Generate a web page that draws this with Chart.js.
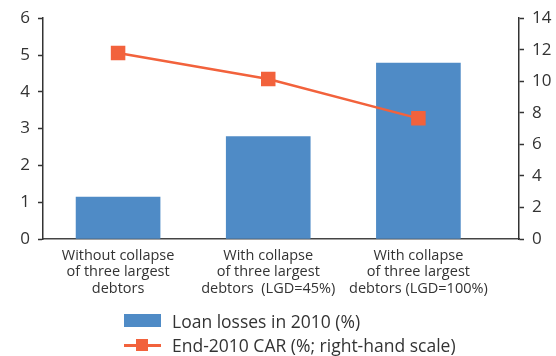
<!DOCTYPE html>
<html>
<head>
<meta charset="utf-8">
<script src="https://cdn.jsdelivr.net/npm/chart.js@4/dist/chart.umd.min.js"></script>
<style>
  html, body { margin: 0; padding: 0; background: #fff; }
  #wrap { position: relative; width: 556px; height: 356px; }
  canvas { position: absolute; left: 0; top: 0; }
  .legend { position: absolute; left: 124px; font-family: "Open Sans", sans-serif; font-size: 17.5px; color: #333; }
  .item { position: absolute; left: 0; height: 20px; white-space: nowrap; }
  .item span { position: absolute; left: 48px; top: 0; line-height: 20px; }
  .box { position: absolute; left: 0; top: 3px; width: 37px; height: 13px; background: #4f8bc6; }
  .ln { position: absolute; left: 0; top: 9px; width: 37px; height: 2.5px; background: #f2623c; }
  .sq { position: absolute; left: 12px; top: 4px; width: 12px; height: 12px; background: #f2623c; }
</style>
</head>
<body>
<div id="wrap">
  <canvas id="c" width="556" height="356"></canvas>
  <div class="legend" style="top:311px">
    <div class="item" style="top:0"><div class="box"></div><span>Loan losses in 2010 (%)</span></div>
    <div class="item" style="top:24px"><div class="ln"></div><div class="sq"></div><span>End-2010 CAR (%; right-hand scale)</span></div>
  </div>
</div>
<script>
const categories = [
  ["Without collapse", "of three largest", "debtors"],
  ["With collapse", "of three largest", "debtors  (LGD=45%)"],
  ["With collapse", "of three largest", "debtors (LGD=100%)"]
]
const loanLosses = [1.14, 2.78, 4.78]
const carEnd2010 = [11.8, 10.15, 7.65]
const leftTicks = [0, 1, 2, 3, 4, 5, 6]
const rightTicks = [0, 2, 4, 6, 8, 10, 12, 14]

const BLUE = "#4f8bc6"
const ORANGE = "#f2623c"
const INK = "#333333"
const FONT = "'Open Sans', sans-serif"

const toXY = arr => arr.map((v, i) => ({ x: i, y: v }))

new Chart(document.getElementById("c"), {
  type: "bar",
  data: {
    datasets: [
      {
        type: "line",
        label: "End-2010 CAR (%; right-hand scale)",
        data: toXY(carEnd2010),
        yAxisID: "y2",
        borderColor: ORANGE,
        backgroundColor: ORANGE,
        borderWidth: 2.5,
        pointStyle: "rect",
        pointRadius: 8.5,
        pointHoverRadius: 8.5,
        tension: 0,
        order: 0,
      },
      {
        label: "Loan losses in 2010 (%)",
        data: toXY(loanLosses),
        yAxisID: "y",
        backgroundColor: BLUE,
        barThickness: 84,
        order: 1,
      },
    ]
  },
  options: {
    responsive: false,
    animation: false,
    layout: { padding: { top: 8, left: 0, right: 0, bottom: 0 } },
    plugins: {
      legend: { display: false },
      tooltip: { enabled: false },
    },
    scales: {
      x: {
        type: "linear",
        offset: false,
        min: -0.5,
        max: 2.67,
        afterBuildTicks: axis => { axis.ticks = categories.map((c, i) => ({ value: i })) },
        afterFit: s => { s.height = 117 },
        grid: { display: true, drawOnChartArea: false, drawTicks: false },
        border: { display: true, color: "#444", width: 1.5 },
        ticks: {
          callback: v => categories[v] || "",
          color: INK,
          padding: 9,
          maxRotation: 0,
          autoSkip: false,
          font: { family: FONT, size: 14.5, lineHeight: 1.12 },
        },
      },
      y: {
        position: "left",
        min: 0,
        max: 6,
        afterBuildTicks: axis => { axis.ticks = leftTicks.map(v => ({ value: v })) },
        afterFit: s => { s.width = 43 },
        grid: { drawOnChartArea: false, tickLength: 5, tickColor: INK, tickWidth: 1.5 },
        border: { display: true, color: INK, width: 1.5 },
        ticks: { color: INK, padding: 8, font: { family: FONT, size: 17 } },
      },
      y2: {
        position: "right",
        min: 0,
        max: 14,
        afterBuildTicks: axis => { axis.ticks = rightTicks.map(v => ({ value: v })) },
        afterFit: s => { s.width = 37 },
        grid: { drawOnChartArea: false, tickLength: 5, tickColor: INK, tickWidth: 1.5 },
        border: { display: true, color: INK, width: 1.5 },
        ticks: { color: INK, padding: 8, font: { family: FONT, size: 17 } },
      },
    }
  }
})
</script>
</body>
</html>
